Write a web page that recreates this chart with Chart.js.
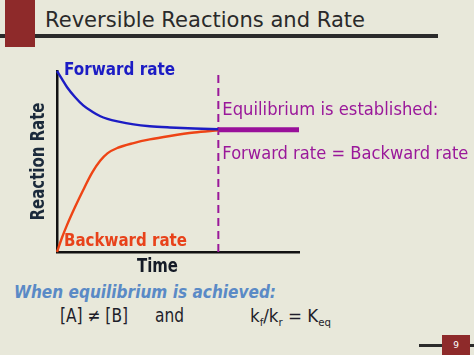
<!DOCTYPE html>
<html><head><meta charset="utf-8">
<script src="https://cdn.jsdelivr.net/npm/chart.js@4.4.1/dist/chart.umd.min.js"></script>
<style>
html,body{margin:0;padding:0;width:474px;height:355px;overflow:hidden;background:#E8E8DA;}
#wrap{position:relative;width:474px;height:355px;}
#c{position:absolute;left:0;top:0;}
svg{position:absolute;left:0;top:0;}
</style></head><body>
<div id="wrap">
<svg width="474" height="355" xmlns="http://www.w3.org/2000/svg">
  <rect x="0" y="34" width="438" height="4" fill="#2B2B2B"/>
  <rect x="5" y="0" width="30" height="47" fill="#8E2A2A"/>
  <text x="45" y="27" font-family="DejaVu Sans" font-size="21" fill="#2A2A2A" textLength="320" lengthAdjust="spacingAndGlyphs">Reversible Reactions and Rate</text>
  <text x="14" y="298" font-family="DejaVu Sans" font-weight="bold" font-style="italic" font-size="18" fill="#5A8AC6" textLength="262" lengthAdjust="spacingAndGlyphs">When equilibrium is achieved:</text>
  <text x="60" y="322" font-family="DejaVu Sans" font-size="19" fill="#1E1E2A" textLength="68" lengthAdjust="spacingAndGlyphs">[A] ≠ [B]</text>
  <text x="155" y="322" font-family="DejaVu Sans" font-size="19" fill="#1E1E2A" textLength="29" lengthAdjust="spacingAndGlyphs">and</text>
  <text x="250" y="322" font-family="DejaVu Sans" font-size="18" fill="#1E1E2A" textLength="81" lengthAdjust="spacingAndGlyphs">k<tspan font-size="11" dy="4">f</tspan><tspan dy="-4">/k</tspan><tspan font-size="11" dy="4">r</tspan><tspan dy="-4"> = K</tspan><tspan font-size="11" dy="4">eq</tspan></text>
  <rect x="419" y="344" width="55" height="3" fill="#2B2B2B"/>
  <rect x="442" y="335" width="28" height="20" fill="#8E2A2A"/>
  <text x="456" y="348" text-anchor="middle" font-family="DejaVu Sans" font-size="9" fill="#FFFFFF">9</text>
</svg>
<canvas id="c" width="474" height="355"></canvas>
</div>
<script>
const times        = [0, 0.25, 0.5, 0.9, 1.3, 1.75, 2.15, 2.5, 3, 3.8, 4.6, 5.6, 6.8, 8];
const forwardRate  = [100, 95.5, 91, 85.5, 81, 77.5, 75, 73.6, 72.2, 70.5, 69.5, 68.8, 68.2, 67.8];
const backwardRate = [0, 8, 15, 25, 34.3, 44, 50.5, 54.5, 57.5, 60.2, 62.2, 64.1, 66.0, 67.2];
const eqTimes      = [8, 12];
const eqRate       = [67.5, 67.5];
const markerTime   = [8, 8];
const markerRange  = [0, 100];

function pts(xs, ys){ return xs.map((x,i)=>({x:x, y:ys[i]})); }

function fitText(ctx, txt, x, yBase, w, font, color, rot){
  ctx.save();
  ctx.font = font; ctx.fillStyle = color; ctx.textBaseline = 'alphabetic'; ctx.textAlign='left';
  const m = ctx.measureText(txt).width;
  ctx.translate(x, yBase);
  if (rot) ctx.rotate(rot);
  ctx.scale(w / m, 1);
  ctx.fillText(txt, 0, 0);
  ctx.restore();
}

const labels = {
  id: 'labels',
  afterDraw(chart){
    const ctx = chart.ctx;
    const xs = chart.scales.x, ys = chart.scales.y;
    const x0 = xs.getPixelForValue(0), xe = xs.getPixelForValue(8);
    const yTop = ys.getPixelForValue(100), yBot = ys.getPixelForValue(0), yEq = ys.getPixelForValue(67.5);
    fitText(ctx, 'Forward rate', x0 + 7, yTop + 4, 111, 'bold 17px "DejaVu Sans"', '#1C1CC4');
    fitText(ctx, 'Backward rate', x0 + 7, yBot - 6, 123, 'bold 17px "DejaVu Sans"', '#E8421A');
    fitText(ctx, 'Equilibrium is established:', xe + 4, yEq - 15, 216, '17px "DejaVu Sans"', '#9A189A');
    fitText(ctx, 'Forward rate = Backward rate', xe + 4, yEq + 29, 246, '17px "DejaVu Sans"', '#9A189A');
    fitText(ctx, 'Reaction Rate', x0 - 13, (yTop + yBot)/2 + 59, 118, 'bold 19px "DejaVu Sans"', '#1B2A3B', -Math.PI/2);
    fitText(ctx, 'Time', 137, yBot + 20, 41, 'bold 19px "DejaVu Sans"', '#141A26');
  }
};

new Chart(document.getElementById('c'), {
  type: 'line',
  data: {
    datasets: [
      { data: pts(times, forwardRate), borderColor: '#1C1CC4', borderWidth: 2.4, pointRadius: 0, tension: 0.4, cubicInterpolationMode: 'monotone', clip: false },
      { data: pts(times, backwardRate), borderColor: '#EE4415', borderWidth: 2.4, pointRadius: 0, tension: 0.4, cubicInterpolationMode: 'monotone', clip: false },
      { data: pts(markerTime, markerRange), borderColor: '#9A189A', borderWidth: 2, borderDash: [8, 5], pointRadius: 0, clip: false },
      { data: pts(eqTimes, eqRate), borderColor: '#99109A', borderWidth: 5, pointRadius: 0, clip: false }
    ]
  },
  options: {
    responsive: false,
    animation: false,
    events: [],
    layout: { autoPadding: false, padding: { left: 57, right: 175, top: 71, bottom: 103 } },
    plugins: { legend: { display: false }, tooltip: { enabled: false } },
    scales: {
      x: { type: 'linear', min: 0, max: 12,
           ticks: { display: false }, grid: { display: true, color: 'rgba(0,0,0,0)', drawTicks: false },
           border: { display: true, color: '#111111', width: 2.5 } },
      y: { type: 'linear', min: 0, max: 100,
           ticks: { display: false }, grid: { display: true, color: 'rgba(0,0,0,0)', drawTicks: false },
           border: { display: true, color: '#111111', width: 2.5 } }
    }
  },
  plugins: [labels]
});
</script>
</body></html>
